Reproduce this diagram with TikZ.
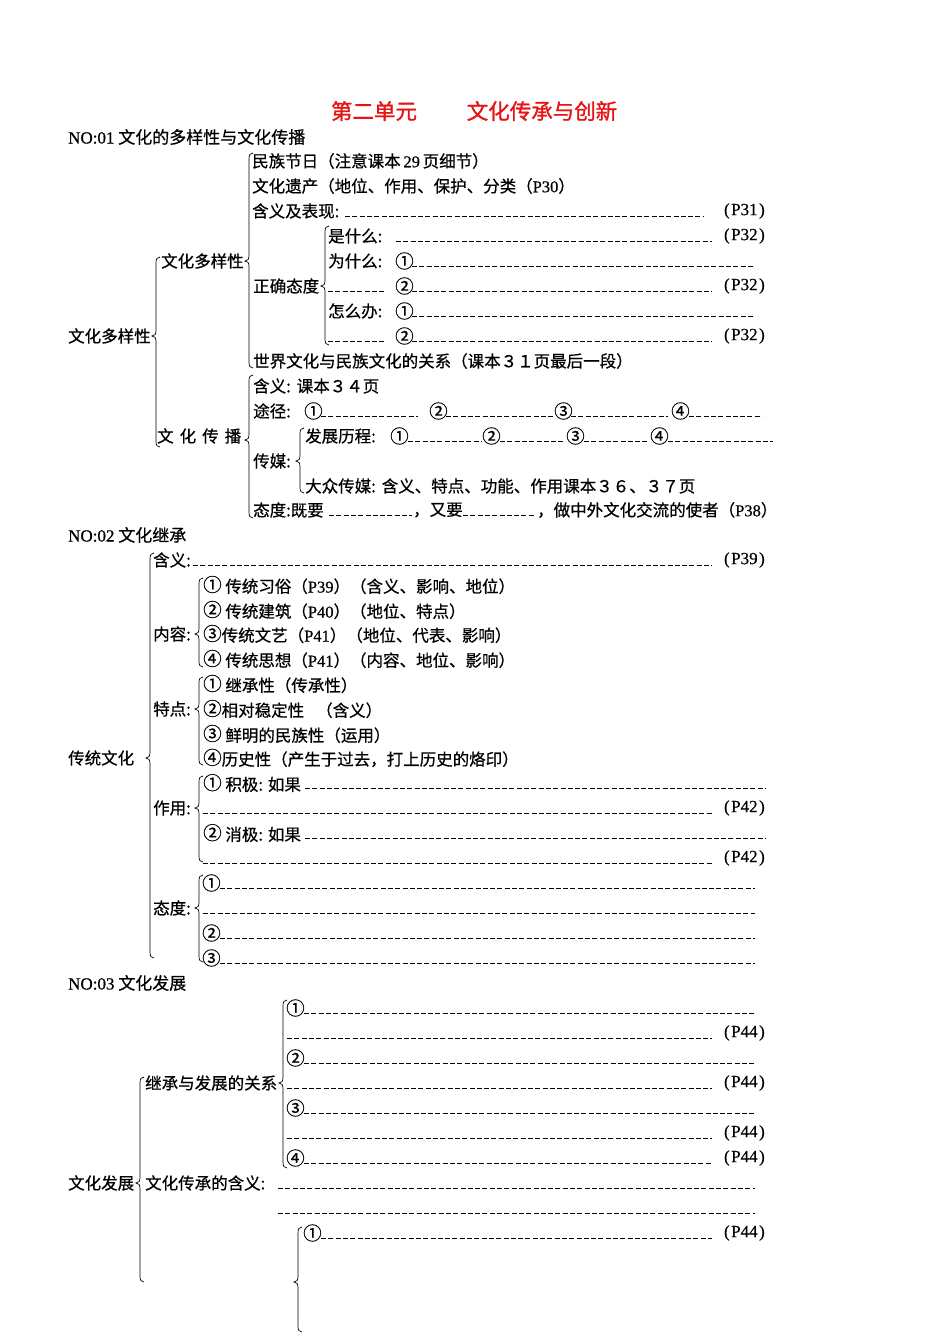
\documentclass[tikz,border=0pt]{standalone}
\usepackage{fontspec}
\setmainfont{Noto Sans CJK SC}[FakeBold=0.6]
\newfontfamily\latf{Liberation Serif}[FakeBold=0.6]
\newfontfamily\titf{Noto Sans CJK SC}[FakeBold=1.2]
\definecolor{titlered}{RGB}{230,20,20}
\newcommand\ci[1]{\raisebox{1pt}{\fontsize{18.5}{18}\selectfont #1}}
\tikzset{
  txt/.style={anchor=west, inner sep=0pt, font=\fontsize{16.5}{17}\selectfont},
  head/.style={anchor=west, inner sep=0pt, font=\fontsize{17}{18}\selectfont},
  titl/.style={inner sep=0pt, text=titlered, font=\fontsize{21.5}{22}\selectfont\titf},
  pl/.style={anchor=east, inner sep=0pt, font=\fontsize{17}{18}\selectfont\latf},
  dl/.style={line width=0.9pt, dash pattern=on 5pt off 2.3pt},
  br/.style={line width=0.7pt},
}
% brace: x, top, tip, bottom (opening to the right, tip to the left)
\newcommand\brc[4]{\draw[br] (#1+4,#2) .. controls (#1+1,#2) and (#1,#2+2) .. (#1,#2+6) -- (#1,#3-6) .. controls (#1,#3-2) and (#1-1,#3) .. (#1-4,#3) .. controls (#1-1,#3) and (#1,#3+2) .. (#1,#3+6) -- (#1,#4-6) .. controls (#1,#4-2) and (#1+1,#4) .. (#1+4,#4);}
% dashed line: x1, x2, y
\newcommand\dsh[3]{\draw[dl] (#1,#3+5) -- (#2,#3+5);}
% page label: name, y, text
\newcommand\pg[3]{\node[pl] (#1) at (765,#2) {(\hspace{1.5pt}#3\hspace{1.5pt})};}
\begin{document}
\begin{tikzpicture}[x=1pt,y=-1pt]
\useasboundingbox (0,0) rectangle (950,1344);
% title
\node[titl] (t1) at (374,111) {第二单元};
\node[titl] (t2) at (542,111) {文化传承与创新};
% ---------------- section 1
\node[head] (h1) at (68,137) {{\latf NO:01} 文化的多样性与文化传播};
\node[txt] (s1) at (68,336) {文化多样性};
\node[txt] (s1a) at (161,261) {文化多样性};
\node[txt] (s1b) at (157,436) {文\hspace{6pt}化\hspace{6pt}传\hspace{6pt}播};
\brc{156}{257}{336}{447}
\brc{249}{153}{261}{368}
\node[txt] (a1) at (252,161) {民族节日（注意课本{\latf\,29\,}页细节）};
\node[txt] (a2) at (252,186) {文化遗产（地位、作用、保护、分类（{\latf P30}）};
\node[txt] (a3) at (252,211) {含义及表现:};
\dsh{345}{703}{211} \pg{p1}{211}{P31}
\node[txt] (a4) at (253,286) {正确态度};
\brc{325}{226}{286}{345}
\node[txt] (a5) at (328,236) {是什么:};
\dsh{396}{712}{236} \pg{p2}{236}{P32}
\node[txt] (a6) at (328,261) {为什么:};
\node[txt] (a6n) at (395,261) {\ci{①}};
\dsh{412}{755}{261}
\dsh{328}{385}{286}
\node[txt] (a7n) at (395,286) {\ci{②}};
\dsh{412}{712}{286} \pg{p3}{286}{P32}
\node[txt] (a8) at (328,311) {怎么办:};
\node[txt] (a8n) at (395,311) {\ci{①}};
\dsh{412}{755}{311}
\dsh{328}{385}{336}
\node[txt] (a9n) at (395,336) {\ci{②}};
\dsh{412}{712}{336} \pg{p4}{336}{P32}
\node[txt] (a10) at (253,361) {世界文化与民族文化的关系（课本３１页最后一段）};
% 文化传播
\brc{249}{375}{440}{518}
\node[txt] (b1) at (253,386) {含义:\hspace{6pt}课本３４页};
\node[txt] (b2) at (253,411) {途径:};
\node[txt] (b2a) at (304,411) {\ci{①}};
\dsh{321}{418}{411}
\node[txt] (b2b) at (429,411) {\ci{②}};
\dsh{446}{553}{411}
\node[txt] (b2c) at (554,411) {\ci{③}};
\dsh{571}{668}{411}
\node[txt] (b2d) at (671,411) {\ci{④}};
\dsh{689}{762}{411}
\node[txt] (b3) at (253,461) {传媒:};
\brc{300}{428}{461}{493}
\node[txt] (b4) at (305,436) {发展历程:};
\node[txt] (b4a) at (390,436) {\ci{①}};
\dsh{408}{482}{436}
\node[txt] (b4b) at (482,436) {\ci{②}};
\dsh{500}{565}{436}
\node[txt] (b4c) at (566,436) {\ci{③}};
\dsh{584}{648}{436}
\node[txt] (b4d) at (650,436) {\ci{④}};
\dsh{668}{773}{436}
\node[txt] (b5) at (305,486) {大众传媒:\hspace{6pt}含义、特点、功能、作用课本３６、３７页};
\node[txt] (b6) at (253,510) {态度:既要};
\dsh{329}{412}{510}
\node[txt] (b6a) at (413,510) {，又要};
\dsh{463}{535}{510}
\node[txt] (b6b) at (537,510) {，做中外文化交流的使者（{\latf P38}）};
% ---------------- section 2
\node[head] (h2) at (68,535) {{\latf NO:02} 文化继承};
\node[txt] (s2) at (68,758) {传统文化};
\brc{150}{553}{758}{958}
\node[txt] (c1) at (153,560) {含义:};
\dsh{193}{712}{560} \pg{p5}{560}{P39}
\node[txt] (c2) at (153,634) {内容:};
\brc{199}{578}{634}{667}
\node[txt] (c2a) at (203,585) {\ci{①} 传统习俗（{\latf P39}）（含义、影响、地位）};
\node[txt] (c2b) at (203,610) {\ci{②} 传统建筑（{\latf P40}）（地位、特点）};
\node[txt] (c2c) at (203,634) {\ci{③}传统文艺（{\latf P41}）（地位、代表、影响）};
\node[txt] (c2d) at (203,659) {\ci{④} 传统思想（{\latf P41}）（内容、地位、影响）};
\node[txt] (c3) at (153,709) {特点:};
\brc{199}{677}{709}{765}
\node[txt] (c3a) at (203,684) {\ci{①} 继承性（传承性）};
\node[txt] (c3b) at (203,709) {\ci{②}相对稳定性\hspace{12pt}（含义）};
\node[txt] (c3c) at (203,734) {\ci{③} 鲜明的民族性（运用）};
\node[txt] (c3d) at (203,758) {\ci{④}历史性（产生于过去，打上历史的烙印）};
\node[txt] (c4) at (153,808) {作用:};
\brc{199}{776}{808}{862}
\node[txt] (c4a) at (203,783) {\ci{①} 积极:\hspace{5pt}如果};
\dsh{305}{765}{783}
\dsh{203}{712}{808} \pg{p6}{808}{P42}
\node[txt] (c4b) at (203,833) {\ci{②} 消极:\hspace{5pt}如果};
\dsh{305}{765}{833}
\dsh{203}{712}{858} \pg{p7}{858}{P42}
\node[txt] (c5) at (153,908) {态度:};
\brc{199}{875}{908}{962}
\node[txt] (c5a) at (202,883) {\ci{①}};
\dsh{220}{755}{883}
\dsh{203}{755}{908}
\node[txt] (c5b) at (202,933) {\ci{②}};
\dsh{220}{755}{933}
\node[txt] (c5c) at (202,958) {\ci{③}};
\dsh{220}{755}{958}
% ---------------- section 3
\node[head] (h3) at (68,983) {{\latf NO:03} 文化发展};
\node[txt] (s3) at (68,1183) {文化发展};
\brc{140}{1077}{1183}{1282}
\node[txt] (d1) at (145,1083) {继承与发展的关系};
\brc{283}{1000}{1083}{1168}
\node[txt] (d1a) at (286,1008) {\ci{①}};
\dsh{304}{755}{1008}
\dsh{287}{712}{1033} \pg{p8}{1033}{P44}
\node[txt] (d1b) at (286,1058) {\ci{②}};
\dsh{304}{755}{1058}
\dsh{287}{712}{1083} \pg{p9}{1083}{P44}
\node[txt] (d1c) at (286,1108) {\ci{③}};
\dsh{304}{755}{1108}
\dsh{287}{712}{1133} \pg{p10}{1133}{P44}
\node[txt] (d1d) at (286,1158) {\ci{④}};
\dsh{304}{712}{1158} \pg{p11}{1158}{P44}
\node[txt] (d2) at (145,1183) {文化传承的含义:};
\dsh{278}{755}{1183}
\dsh{278}{755}{1208}
\brc{298}{1227}{1282}{1332}
\node[txt] (d3a) at (303,1233) {\ci{①}};
\dsh{321}{712}{1233} \pg{p12}{1233}{P44}
\end{tikzpicture}
\end{document}
